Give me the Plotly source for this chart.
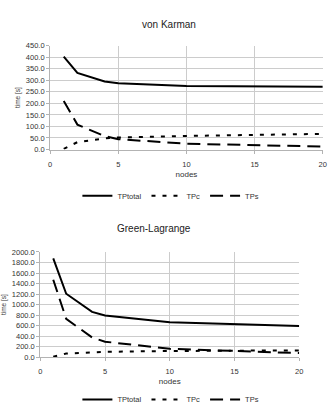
import plotly.graph_objects as go

nodes = [1, 2, 4, 5, 10, 20]

vk_total = [402, 332, 295, 287, 275, 272]
vk_c = [3, 32, 48, 52, 59, 68]
vk_s = [210, 108, 58, 45, 25, 13]

gl_total = [1876, 1207, 862, 795, 668, 596]
gl_c = [10, 72, 95, 105, 120, 132]
gl_s = [1473, 730, 377, 297, 161, 80]

titles = ["von Karman", "Green-Lagrange"]
series_names = ["TPtotal", "TPc", "TPs"]

W, H = 332, 424
FONT = "Liberation Sans, Arial, sans-serif"
GRID = "#cccccc"
TXT = "#333333"

styles = [
    dict(color="black", width=2, dash="solid"),
    dict(color="black", width=2, dash="4px,7px"),
    dict(color="black", width=2, dash="13px,7px"),
]

fig = go.Figure()

data_sets = [(vk_total, vk_c, vk_s), (gl_total, gl_c, gl_s)]
for i, ds in enumerate(data_sets):
    xa = "x" if i == 0 else "x2"
    ya = "y" if i == 0 else "y2"
    lg = "legend" if i == 0 else "legend2"
    for name, vals, st in zip(series_names, ds, styles):
        fig.add_trace(go.Scatter(x=nodes, y=vals, mode="lines", name=name,
                                 line=st, xaxis=xa, yaxis=ya, legend=lg))

def px_x(p):
    return p / W

def px_y(p):
    return 1 - p / H

axis_common = dict(showgrid=True, gridcolor=GRID, gridwidth=1, showline=True,
                   linecolor="#b3b3b3", linewidth=1, ticks="outside", ticklen=3,
                   tickcolor="#b3b3b3", zeroline=False,
                   tickfont=dict(family=FONT, size=7.5, color=TXT))

xtitle = dict(text="nodes", font=dict(size=8, family=FONT, color=TXT), standoff=3)
ytitle = dict(text="time [s]", font=dict(size=6.5, family=FONT, color=TXT), standoff=4)

legend_common = dict(orientation="h", xanchor="center",
                     font=dict(family=FONT, size=7.5, color=TXT),
                     itemwidth=30, tracegroupgap=0, bgcolor="rgba(0,0,0,0)")

fig.update_layout(
    width=W, height=H, margin=dict(l=0, r=0, t=0, b=0),
    paper_bgcolor="white", plot_bgcolor="white",
    font=dict(family=FONT, color=TXT),
    xaxis=dict(domain=[px_x(49), px_x(326.7)], range=[0, 20], dtick=5, anchor="y",
               ticklabelstandoff=4, title=xtitle, **axis_common),
    yaxis=dict(domain=[px_y(148.7), px_y(42.5)], range=[0, 450], dtick=50, anchor="x",
               tickformat=".1f", title=ytitle, **axis_common),
    xaxis2=dict(domain=[px_x(39), px_x(302.7)], range=[0, 20], dtick=5, anchor="y2",
                ticklabelstandoff=4, title=xtitle, **axis_common),
    yaxis2=dict(domain=[px_y(361), px_y(253.3)], range=[0, 2000], dtick=200, anchor="x2",
                tickformat=".1f", title=ytitle, **axis_common),
    legend=dict(x=px_x(172), y=px_y(196), yanchor="middle", **legend_common),
    legend2=dict(x=px_x(172), y=px_y(404), yanchor="middle", **legend_common),
    annotations=[
        dict(text=titles[0], x=px_x(170), y=px_y(13), xref="paper", yref="paper",
             showarrow=False, font=dict(family=FONT, size=10, color="#222222")),
        dict(text=titles[1], x=px_x(155), y=px_y(229), xref="paper", yref="paper",
             showarrow=False, font=dict(family=FONT, size=10, color="#222222")),
    ],
)

fig.write_html(
    "out.html",
    post_script="document.documentElement.style.overflow='hidden';document.body.style.overflow='hidden';",
)
